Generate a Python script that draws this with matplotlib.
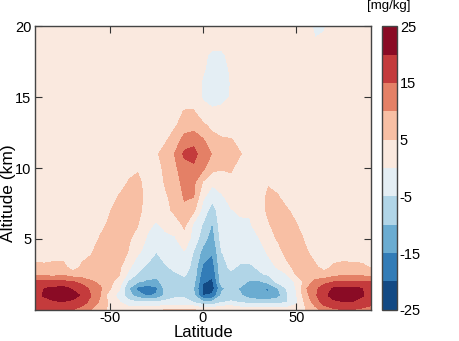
import matplotlib
matplotlib.use('Agg')
import matplotlib.pyplot as plt
import numpy as np

plt.rcParams['font.family'] = ['Liberation Sans', 'DejaVu Sans']
plt.rcParams['axes.unicode_minus'] = False

latitudes = [-90, -85, -80, -75, -70, -65, -60, -55, -50, -45, -40, -35, -30, -25, -20, -15, -10, -5,
             0, 5, 10, 15, 20, 25, 30, 35, 40, 45, 50, 55, 60, 65, 70, 75, 80, 85, 90]
altitudes = [0, 0.5, 1, 1.5, 2, 2.5, 3, 4, 5, 6, 7, 8, 9, 10, 11, 12, 13, 14, 15, 16, 17, 18, 19, 20]

conc_alt00 = [15, 15.5, 16, 16, 15, 13, 10, 7, 4, 2.5, 2.5, 2.5, 2.5, 3, 5.5, 5.5, 5.5, 5.5, 3, 3, 5, 5, 3, 2.5, 2.5, 2.5, 2.5, 2.5, 3, 5, 8, 12, 14, 15, 15, 14, 13]
conc_alt05 = [17, 18, 19, 19.5, 18.5, 17, 13.5, 9, 4, 0.5, -3, -4, -4, -4, -3, -3, -3, -5, -8, -8, -5, -4, -5, -6, -6.5, -6.5, -6, -5, -1, 6, 12, 17, 19, 19.5, 19.5, 18, 16.5]
conc_alt10 = [18.5, 20.5, 22.5, 23, 22, 19.5, 15, 10, 2, -1.5, -8, -12.5, -15.5, -14.5, -9, -6, -6, -9, -20, -19, -9, -8, -9.5, -12.5, -14.3, -14.8, -12, -5.5, -0.5, 8, 14, 19, 21.5, 22.5, 22.5, 20.5, 18.5]
conc_alt15 = [18, 20, 21, 21.5, 19.5, 17.5, 14, 10.5, 5.5, 0.5, -9.5, -16.5, -18, -16, -8.5, -6.5, -6.5, -10, -21, -22.5, -11, -8.5, -10.5, -13, -14.6, -15.4, -10.5, -4.5, 0.3, 9.5, 13.5, 18, 20.5, 21, 21, 20.2, 18]
conc_alt20 = [15.5, 15.5, 15.5, 15.5, 15, 13, 10.5, 9, 6, 3.5, -5.5, -9, -11, -11.5, -7, -6, -6, -8.5, -19.5, -20.8, -7, -6, -8, -10.5, -10.5, -8, -3.5, -3, 1, 6.5, 11, 13, 14.5, 15, 15, 15, 15.2]
conc_alt25 = [8.5, 8.5, 8, 9, 7, 7, 7, 7.5, 6, 5.3, -1, -5.5, -7, -8, -6, -5.5, -4.5, -7, -18, -19.2, -6.5, -5.5, -6.5, -7.5, -5.5, -4.5, -3, 0, 5.5, 7, 7, 6, 8, 9, 9, 8.5, 8]
conc_alt30 = [6, 5.8, 6, 6.5, 3, 5.5, 6, 7, 6.5, 6, 1, -3, -6, -6.5, -5.5, -4, -3, -6.5, -16, -17.5, -6, -4.5, -5.5, -5.6, -4.5, -2, 0.5, 4, 6, 7, 5.5, 4, 5.5, 6, 6, 5.8, 4.8]
conc_alt40 = [3, 3, 3.5, 3, 2.5, 4, 4.8, 6.5, 7, 6.5, 4.8, 0.5, -1.5, -5.2, -3, -3, -0.5, -5.5, -12, -14.7, -5.2, -3.5, -3.5, -3.5, -2, 0.5, 3.5, 6, 7, 5.5, 4, 3, 3.5, 3.5, 3, 3, 3]
conc_alt50 = [2.5, 2.5, 2.5, 2.5, 2.5, 2.5, 3.5, 5.3, 6.5, 7, 5.5, 3.5, -0.5, -2, -1.5, -0.5, 3, -2, -8, -12.5, -3, -2, -2, -1.5, -0.2, 3.5, 5.3, 7, 6.5, 4.5, 3, 2.5, 2.5, 2.5, 2.5, 2.5, 2.5]
conc_alt60 = [2, 2, 2, 2, 2, 2, 2.5, 4.2, 5.5, 6.5, 6.5, 5.2, 1, -0.5, 1.5, 2, 6, -1, -5.5, -10.5, -2, -1.5, -1, -0.5, 2, 4.5, 7, 7, 5.2, 3, 2.5, 2, 2, 2, 2, 2, 2]
conc_alt70 = [2, 2, 2, 2, 2, 2, 2, 2.5, 4.8, 6.5, 7, 6, 3.5, 2, 3, 6.5, 9, 6, -2, -7.5, -1.5, -0.3, 0.8, 0.5, 2.5, 6, 6.5, 5.5, 3.5, 2.5, 2, 2, 2, 2, 2, 2, 2]
conc_alt80 = [2, 2, 2, 2, 2, 2, 2, 2, 2.5, 5.3, 6.8, 6.5, 3.8, 2.5, 4.5, 6.5, 10.5, 10.2, 1, -3, -0.5, 1.5, 2, 2, 2.5, 6, 5.3, 3, 2.5, 2, 2, 2, 2, 2, 2, 2, 2]
conc_alt90 = [2, 2, 2, 2, 2, 2, 2, 2, 2, 2.5, 5.2, 6, 3.5, 3, 5.5, 8, 11.5, 11, 4.5, 1, 2, 4, 3, 2, 2.5, 4.5, 3.5, 2.5, 2, 2, 2, 2, 2, 2, 2, 2, 2]
conc_alt100 = [2, 2, 2, 2, 2, 2, 2, 2, 2, 2, 4, 4.5, 2.5, 3.5, 6, 9, 13, 14, 11, 6.5, 5.5, 5.5, 3.5, 2.5, 2, 2, 2, 2, 2, 2, 2, 2, 2, 2, 2, 2, 2]
conc_alt110 = [2, 2, 2, 2, 2, 2, 2, 2, 2, 2, 2, 2, 2.5, 4.5, 6.5, 10.3, 16, 17, 12, 9.8, 6.5, 6.5, 5.2, 3, 2, 2, 2, 2, 2, 2, 2, 2, 2, 2, 2, 2, 2]
conc_alt120 = [2, 2, 2, 2, 2, 2, 2, 2, 2, 2, 2, 2, 2, 2.5, 4.5, 7, 12, 13, 10.3, 7, 5.5, 5.3, 3.5, 2.5, 2, 2, 2, 2, 2, 2, 2, 2, 2, 2, 2, 2, 2]
conc_alt130 = [2, 2, 2, 2, 2, 2, 2, 2, 2, 2, 2, 2, 2, 2, 2.5, 4.5, 7, 8, 6, 3.5, 2.5, 2, 2, 2, 2, 2, 2, 2, 2, 2, 2, 2, 2, 2, 2, 2, 2]
conc_alt140 = [2, 2, 2, 2, 2, 2, 2, 2, 2, 2, 2, 2, 2, 2, 2, 3.5, 5.2, 5.3, 1.5, 0.8, 1.2, 2, 2, 2, 2, 2, 2, 2, 2, 2, 2, 2, 2, 2, 2, 2, 2]
conc_alt150 = [2, 2, 2, 2, 2, 2, 2, 2, 2, 2, 2, 2, 2, 2, 2, 2, 3, 3, -0.5, -2, -1.5, 0.3, 2, 2, 2, 2, 2, 2, 2, 2, 2, 2, 2, 2, 2, 2, 2]
conc_alt160 = [2, 2, 2, 2, 2, 2, 2, 2, 2, 2, 2, 2, 2, 2, 2, 2, 2, 2, -0.5, -2, -2, 0.2, 2, 2, 2, 2, 2, 2, 2, 2, 2, 2, 2, 2, 2, 2, 2]
conc_alt170 = [2, 2, 2, 2, 2, 2, 2, 2, 2, 2, 2, 2, 2, 2, 2, 2, 2, 2, 0.5, -1.5, -1.5, 0.5, 2, 2, 2, 2, 2, 2, 2, 2, 2, 2, 2, 2, 2, 2, 2]
conc_alt180 = [2, 2, 2, 2, 2, 2, 2, 2, 2, 2, 2, 2, 2, 2, 2, 2, 2, 2, 1, -1, -0.8, 1.5, 2, 2, 2, 2, 2, 2, 2, 2, 2, 2, 2, 2, 2, 2, 2]
conc_alt190 = [2, 2, 2, 2, 2, 2, 2, 2, 2, 2, 2, 2, 2, 2, 2, 2, 2, 2, 2, 2, 2, 2, 2, 2, 2, 2, 2, 2, 2, 2, 0.2, 0.5, 2, 2, 2, 2, 2]
conc_alt200 = [2, 2, 2, 2, 2, 2, 2, 2, 2, 2, 2, 2, 2, 2, 2, 2, 2, 2, 2, 2, 2, 2, 2, 2, 2, 2, 2, 2, 2, 2, -0.8, -0.3, 2, 2, 2, 2, 2]

levels = [-25, -20, -15, -10, -5, 0, 5, 10, 15, 20, 25]
cbar_ticks = [-25, -15, -5, 5, 15, 25]
x_ticks = [-50, 0, 50]
y_ticks = [5, 10, 15, 20]

rows = [conc_alt00, conc_alt05, conc_alt10, conc_alt15, conc_alt20, conc_alt25, conc_alt30,
        conc_alt40, conc_alt50, conc_alt60, conc_alt70, conc_alt80, conc_alt90, conc_alt100,
        conc_alt110, conc_alt120, conc_alt130, conc_alt140, conc_alt150, conc_alt160,
        conc_alt170, conc_alt180, conc_alt190, conc_alt200]
Z = np.array(rows, dtype=float)

fig = plt.figure(figsize=(4.6, 3.41), dpi=100)
ax = fig.add_axes([0.0761, 0.0918, 0.7304, 0.831])
cax = fig.add_axes([0.8304, 0.0918, 0.0326, 0.831])

cf = ax.contourf(latitudes, altitudes, Z, levels=levels, cmap='RdBu_r')
ax.set_xlim(-90, 90)
ax.set_ylim(0, 20)
ax.set_xticks(x_ticks)
ax.set_yticks(y_ticks)
ax.tick_params(direction='in', top=True, right=True, length=5, width=0.8,
               labelsize=10.5, color='#333333')
ax.tick_params(axis='x', pad=1)
ax.tick_params(axis='y', pad=2.5)
for s in ax.spines.values():
    s.set_color('#444444')
    s.set_linewidth(1.0)

ax.set_xlabel('Latitude', fontsize=12)
ax.xaxis.label.set_va('baseline')
ax.xaxis.set_label_coords(0.5, -0.0975)

ax.set_ylabel('Altitude (km)', fontsize=12.5)
ax.yaxis.label.set_va('baseline')
ax.yaxis.label.set_rotation_mode('anchor')
ax.yaxis.set_label_coords(-0.0655, 0.41)

cb = fig.colorbar(cf, cax=cax, ticks=cbar_ticks)
cb.ax.tick_params(length=0, labelsize=10.5, pad=2)
cb.outline.set_edgecolor('#444444')
cb.outline.set_linewidth(1.0)
fig.text(0.8446, 0.982, '[mg/kg]', ha='center', va='center', fontsize=9.5)

fig.savefig('out.png', dpi=100)
